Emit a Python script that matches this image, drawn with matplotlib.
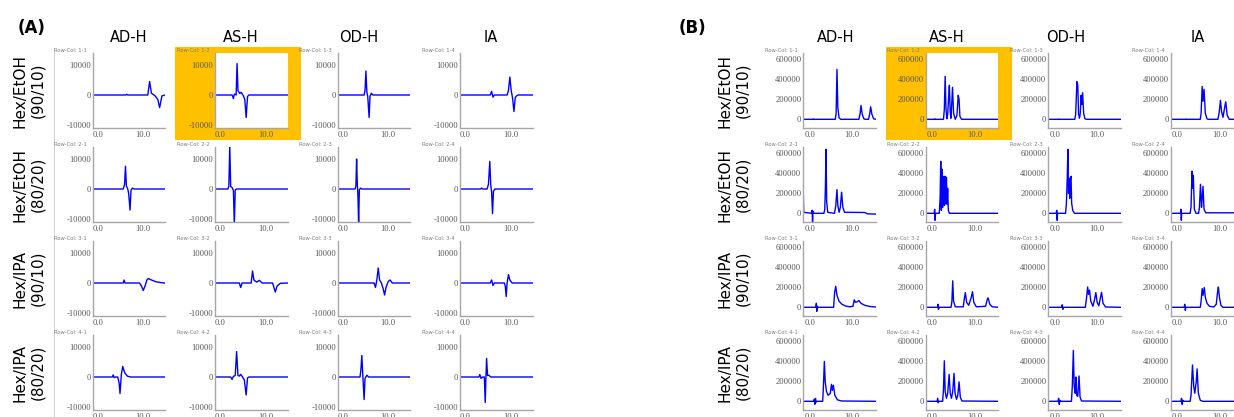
import matplotlib.pyplot as plt
import matplotlib.patches as mpatches
import matplotlib.lines as mlines

plt.rcParams['axes.unicode_minus'] = False

W, H = 1234, 417

columns = ["AD-H", "AS-H", "OD-H", "IA"]
phases = ["Hex/EtOH\n(90/10)", "Hex/EtOH\n(80/20)", "Hex/IPA\n(90/10)", "Hex/IPA\n(80/20)"]

# (A) difference signal, (time, signal)
a_11 = [(-1.1, 0), (6.2, 0), (6.4, 250), (6.6, 0), (11.0, 0), (11.4, 4500), (11.8, 600), (12.6, -300),
        (13.2, -1500), (13.6, -4200), (14.1, -300), (14.8, 0)]
a_12 = [(-1.1, 0), (2.6, 0), (2.9, -1200), (3.1, 300), (3.5, 0), (3.7, 10500), (3.9, 1500), (4.3, 500),
        (4.6, 900), (5.0, 0), (5.4, -1500), (5.7, -7500), (6.0, -500), (6.3, 0), (14.8, 0)]
a_13 = [(-1.1, 0), (4.7, 0), (4.9, 1500), (5.1, 8000), (5.3, 1000), (5.5, -500), (5.8, -7500),
        (6.0, -400), (6.3, 600), (6.6, 0), (14.8, 0)]
a_14 = [(-1.1, 0), (5.5, 0), (5.8, 1200), (6.1, -700), (6.4, 0), (9.2, 0), (9.5, 1500), (9.8, 6000),
        (10.1, 1500), (10.4, -1000), (10.7, -5500), (11.0, -800), (11.3, -300), (11.6, 0), (14.8, 0)]
a_21 = [(-1.1, 0), (5.6, 0), (5.9, 1500), (6.1, 7600), (6.3, 1000), (6.6, 0), (6.8, -1500), (7.1, -7000),
        (7.3, -500), (7.6, 300), (8.0, 0), (14.8, 0)]
a_22 = [(-1.1, 0), (1.7, 0), (1.9, 1000), (2.1, 14500), (2.3, 800), (2.6, 500), (2.9, -500),
        (3.1, -12000), (3.3, -300), (3.6, 0), (14.8, 0)]
a_23 = [(-1.1, 0), (2.7, 0), (2.9, 1000), (3.05, 10000), (3.2, 2000), (3.35, -2500), (3.5, -12000),
        (3.65, -300), (3.9, 300), (4.2, 0), (14.8, 0)]
a_24 = [(-1.1, 0), (3.4, 0), (3.6, 300), (3.9, 0), (4.8, 0), (5.1, 1500), (5.4, 9200), (5.6, 1500),
        (5.8, -1000), (6.0, -8200), (6.2, -800), (6.5, 0), (14.8, 0)]
a_31 = [(-1.1, 0), (5.6, 0), (5.8, 1000), (6.0, 0), (9.2, 0), (9.6, -1000), (10.0, -2500), (10.4, -1000),
        (10.8, 1000), (11.1, 1500), (11.8, 1000), (12.8, 400), (14.0, 100), (14.8, 0)]
a_32 = [(-1.1, 0), (4.2, 0), (4.5, -1500), (4.8, 0), (6.8, 0), (7.1, 4000), (7.4, 1000), (8.0, 300),
        (8.6, 900), (9.2, 0), (11.5, 0), (11.8, -1500), (12.1, -3000), (12.5, -1000), (13.2, -100), (14.8, 0)]
a_33 = [(-1.1, 0), (6.9, 0), (7.2, -1500), (7.5, 1000), (7.8, 5000), (8.1, 1000), (8.5, 0), (8.9, -2000),
        (9.2, -4000), (9.5, -1500), (10.0, 500), (10.4, 1000), (10.9, 0), (14.8, 0)]
a_34 = [(-1.1, 0), (5.5, 0), (5.8, 1000), (6.1, -800), (6.4, 0), (8.6, 0), (8.8, -1000), (9.0, -4500),
        (9.2, 0), (9.5, 2800), (9.8, 1000), (10.3, 0), (14.8, 0)]
a_41 = [(-1.1, 0), (3.2, 0), (3.4, 700), (3.6, -200), (3.9, 0), (4.4, 0), (4.7, -2000), (4.9, -5500),
        (5.2, 1000), (5.5, 3500), (5.9, 1500), (6.5, 300), (7.2, 0), (14.8, 0)]
a_42 = [(-1.1, 0), (2.3, 0), (2.6, -800), (2.9, 200), (3.3, 500), (3.6, 8500), (3.9, 500), (4.2, 300),
        (4.5, 900), (4.9, 0), (5.3, -1000), (5.7, -6000), (6.0, -300), (6.3, 0), (14.8, 0)]
a_43 = [(-1.1, 0), (3.8, 0), (4.0, 2500), (4.2, 7200), (4.4, 1000), (4.7, -7500), (4.9, -500), (5.3, 600),
        (5.7, 0), (14.8, 0)]
a_44 = [(-1.1, 0), (3.0, 0), (3.2, 800), (3.5, -500), (3.8, 0), (4.2, 0), (4.4, -8500), (4.55, 0),
        (4.7, 6200), (4.9, 500), (5.2, 600), (5.6, 0), (14.8, 0)]

# (B) UV signal
b_11 = [(-1.6, 0), (0.7, 0), (0.8, 4000), (0.9, 0), (6.0, 0), (6.2, 60000), (6.4, 500000), (6.6, 120000),
        (6.9, 15000), (7.3, 0), (11.6, 0), (11.9, 60000), (12.1, 138000), (12.4, 50000), (12.8, 5000),
        (13.1, 0), (13.9, 0), (14.2, 60000), (14.4, 125000), (14.7, 50000), (15.1, 5000), (15.6, 0)]
b_12 = [(-1.6, 0), (0.5, 0), (0.6, 5000), (0.7, 0), (2.6, 0), (2.8, 100000), (3.0, 430000), (3.2, 100000),
        (3.4, 5000), (3.6, 50000), (3.8, 200000), (4.0, 340000), (4.2, 80000), (4.35, 10000), (4.5, 100000),
        (4.75, 320000), (5.0, 60000), (5.4, 0), (5.8, 40000), (6.1, 240000), (6.3, 200000), (6.5, 30000),
        (6.9, 0), (15.6, 0)]
b_13 = [(-1.6, 0), (0.8, 0), (0.9, 3000), (1.0, 0), (4.7, 0), (4.9, 50000), (5.2, 377000), (5.4, 340000),
        (5.6, 50000), (5.8, 10000), (6.0, 60000), (6.2, 240000), (6.35, 150000), (6.55, 265000),
        (6.8, 60000), (7.1, 5000), (7.5, 0), (15.6, 0)]
b_14 = [(-1.6, 0), (1.9, 0), (2.0, 3000), (2.1, 0), (5.4, 0), (5.6, 60000), (5.85, 328000), (6.05, 180000),
        (6.3, 300000), (6.6, 60000), (7.0, 5000), (7.3, 0), (9.6, 0), (9.9, 70000), (10.2, 190000),
        (10.45, 80000), (10.8, 20000), (11.2, 120000), (11.45, 175000), (11.8, 40000), (12.3, 0), (15.6, 0)]
b_21 = [(-1.6, 200000), (-1.5, 10000), (0.4, 0), (0.5, 30000), (0.6, -90000), (0.7, 20000), (0.9, 0),
        (3.3, 0), (3.5, 40000), (3.65, 260000), (3.8, 640000), (3.95, 120000), (4.2, 10000), (5.8, 0),
        (6.1, 70000), (6.4, 237000), (6.6, 80000), (6.9, 10000), (7.2, 60000), (7.5, 211000), (7.8, 60000),
        (8.2, 10000), (13.0, 8000), (13.6, -5000), (15.6, -8000)]
b_22 = [(-1.6, 0), (0.4, 0), (0.5, 40000), (0.6, -70000), (0.7, 0), (1.6, 0), (1.8, 150000), (1.95, 520000),
        (2.1, 30000), (2.25, 440000), (2.4, 60000), (2.55, 200000), (2.7, 370000), (2.85, 80000),
        (3.0, 370000), (3.15, 100000), (3.3, 360000), (3.45, 90000), (3.6, 250000), (3.75, 30000),
        (4.0, 0), (15.6, 0)]
b_23 = [(-1.6, 0), (0.3, 0), (0.4, 30000), (0.5, -70000), (0.6, 0), (2.5, 0), (2.7, 100000), (2.9, 350000),
        (3.05, 640000), (3.2, 200000), (3.35, 350000), (3.5, 150000), (3.65, 350000), (3.8, 370000),
        (3.95, 100000), (4.2, 30000), (4.6, 0), (15.6, 0)]
b_24 = [(-1.6, 0), (0.7, 0), (0.8, 40000), (0.9, -70000), (1.0, 0), (3.0, 0), (3.2, 60000), (3.45, 420000),
        (3.6, 250000), (3.75, 380000), (4.0, 40000), (4.4, 0), (5.0, 0), (5.2, 60000), (5.45, 290000),
        (5.7, 60000), (5.85, 150000), (6.05, 270000), (6.3, 40000), (6.7, 5000), (15.6, 5000)]
b_31 = [(-1.6, 0), (1.4, 0), (1.5, 40000), (1.6, -40000), (1.7, 10000), (1.9, 0), (5.6, 0), (5.85, 150000),
        (6.1, 210000), (6.4, 120000), (6.9, 60000), (7.6, 30000), (8.5, 12000), (9.5, 5000), (10.2, 10000),
        (10.5, 75000), (10.8, 50000), (11.2, 55000), (11.6, 68000), (12.1, 40000), (13.0, 20000),
        (14.2, 8000), (15.6, 3000)]
b_32 = [(-1.6, 0), (1.2, 0), (1.3, 30000), (1.4, -20000), (1.6, 0), (4.4, 0), (4.6, 60000), (4.8, 265000),
        (5.0, 60000), (5.4, 5000), (7.3, 5000), (7.6, 100000), (7.8, 147000), (8.1, 50000), (8.6, 20000),
        (9.2, 100000), (9.5, 156000), (9.8, 50000), (10.4, 5000), (12.6, 10000), (13.0, 80000),
        (13.2, 94000), (13.6, 30000), (14.2, 5000), (15.6, 0)]
b_33 = [(-1.6, 0), (1.6, 0), (1.7, 25000), (1.85, -20000), (2.0, 0), (7.2, 0), (7.5, 100000), (7.75, 203000),
        (7.95, 130000), (8.2, 172000), (8.5, 60000), (9.0, 10000), (9.4, 80000), (9.7, 147000),
        (10.0, 50000), (10.4, 15000), (10.8, 100000), (11.05, 150000), (11.4, 40000), (12.0, 3000), (15.6, 0)]
b_34 = [(-1.6, 0), (1.6, 0), (1.7, 30000), (1.85, -30000), (2.0, 0), (5.4, 0), (5.6, 60000), (5.85, 187000),
        (6.05, 120000), (6.35, 197000), (6.6, 100000), (7.0, 40000), (7.6, 10000), (8.6, 3000),
        (9.2, 30000), (9.5, 150000), (9.7, 203000), (9.95, 100000), (10.3, 20000), (10.8, 0), (15.6, 0)]
b_41 = [(-1.6, 0), (0.9, 0), (1.0, 20000), (1.15, -30000), (1.3, 30000), (1.4, -10000), (1.6, 0), (3.0, 0),
        (3.15, 120000), (3.4, 399000), (3.6, 200000), (3.9, 100000), (4.3, 60000), (4.8, 80000),
        (5.1, 170000), (5.3, 110000), (5.55, 160000), (5.9, 60000), (6.5, 15000), (7.5, 3000), (15.6, 0)]
b_42 = [(-1.6, 0), (1.1, 0), (1.2, 30000), (1.35, -15000), (1.5, 0), (2.4, 0), (2.6, 120000), (2.8, 405000),
        (3.0, 100000), (3.3, 30000), (3.6, 80000), (3.95, 269000), (4.2, 80000), (4.5, 30000), (4.8, 100000),
        (5.1, 279000), (5.35, 80000), (5.7, 20000), (6.0, 60000), (6.3, 195000), (6.6, 40000), (7.0, 3000),
        (15.6, 0)]
b_43 = [(-1.6, 0), (0.7, 0), (0.85, 30000), (1.0, -30000), (1.15, 10000), (1.3, 0), (3.9, 0), (4.1, 150000),
        (4.35, 509000), (4.55, 150000), (4.8, 80000), (4.95, 243000), (5.15, 60000), (5.4, 50000),
        (5.7, 253000), (5.95, 40000), (6.3, 3000), (15.6, 0)]
b_44 = [(-1.6, 0), (0.8, 0), (0.95, 30000), (1.1, -30000), (1.25, 10000), (1.4, 0), (3.0, 0), (3.2, 60000),
        (3.55, 363000), (3.85, 150000), (4.1, 80000), (4.45, 200000), (4.65, 324000), (4.95, 80000),
        (5.4, 10000), (6.0, 0), (15.6, 0)]

grid_a = [[a_11, a_12, a_13, a_14], [a_21, a_22, a_23, a_24], [a_31, a_32, a_33, a_34], [a_41, a_42, a_43, a_44]]
grid_b = [[b_11, b_12, b_13, b_14], [b_21, b_22, b_23, b_24], [b_31, b_32, b_33, b_34], [b_41, b_42, b_43, b_44]]

a_yticks = [-10000, 0, 10000]
b_yticks = [0, 200000, 400000, 600000]
x_ticks = [0, 10]

fig = plt.figure(figsize=(W / 100, H / 100), dpi=100)


def draw_block(grid, left0, xlim, ylim, yticks, title_x, label_x, letter, letter_x, border):
    pitch_x, pitch_y, aw, ah = 122.5, 94, 72.4, 75
    # highlighted AS-H / Hex-EtOH 90/10 cell
    x0 = left0 + pitch_x - 40
    rect = mpatches.Rectangle((x0 / W, 1 - 140 / H), 126 / W, 93 / H, transform=fig.transFigure,
                              facecolor='#FFC000', edgecolor='none', zorder=-1)
    fig.add_artist(rect)
    if border:
        fig.add_artist(mlines.Line2D([(left0 - 38.5) / W] * 2, [1 - 48 / H, 0], transform=fig.transFigure,
                                     color='#C8C8C8', lw=0.6))
    for r in range(4):
        top = 53 + pitch_y * r
        for c in range(4):
            left = left0 + pitch_x * c
            ax = fig.add_axes([left / W, (H - top - ah) / H, aw / W, ah / H])
            pts = grid[r][c]
            ax.plot([p[0] for p in pts], [p[1] for p in pts], color='#0000FF', lw=1.0)
            ax.set_xlim(xlim)
            ax.set_ylim(ylim)
            ax.set_xticks(x_ticks)
            ax.set_xticklabels(['0.0', '10.0'])
            ax.set_yticks(yticks)
            ax.set_yticklabels([str(v) for v in yticks])
            for s in ['top', 'right']:
                ax.spines[s].set_visible(False)
            for s in ['left', 'bottom']:
                ax.spines[s].set_color('#A6A6A6')
                ax.spines[s].set_linewidth(1.0)
            ax.tick_params(length=0, labelcolor='#595959', labelsize=6.2)
            ax.tick_params(axis='y', pad=1.3)
            ax.tick_params(axis='x', pad=2.2)
            for lab in ax.get_xticklabels() + ax.get_yticklabels():
                lab.set_fontfamily('Liberation Serif')
            fig.text((left - 38.5) / W, 1 - (top - 2.5) / H, f'Row-Col: {r + 1}-{c + 1}',
                     fontsize=3.8, color='#7F7F7F', va='center', ha='left')
        fig.text(label_x / W, 1 - (top + 37.5) / H, phases[r], rotation=90, ha='center', va='center',
                 fontsize=11, linespacing=1.25, multialignment='center')
    for c in range(4):
        fig.text(title_x[c] / W, 1 - 38 / H, columns[c], ha='center', va='center', fontsize=10.5)
    fig.text(letter_x / W, 1 - 28 / H, letter, ha='center', va='center', fontsize=12, fontweight='bold')


draw_block(grid_a, 92.7, (-1.1, 14.8), (-11000, 14000), a_yticks,
           [129, 240.5, 358.5, 491], 29, '(A)', 32, True)
draw_block(grid_b, 803.3, (-1.6, 15.6), (-87000, 663000), b_yticks,
           [836, 947, 1065.3, 1198], 734, '(B)', 692.5, False)

fig.savefig('out.png', dpi=100)
